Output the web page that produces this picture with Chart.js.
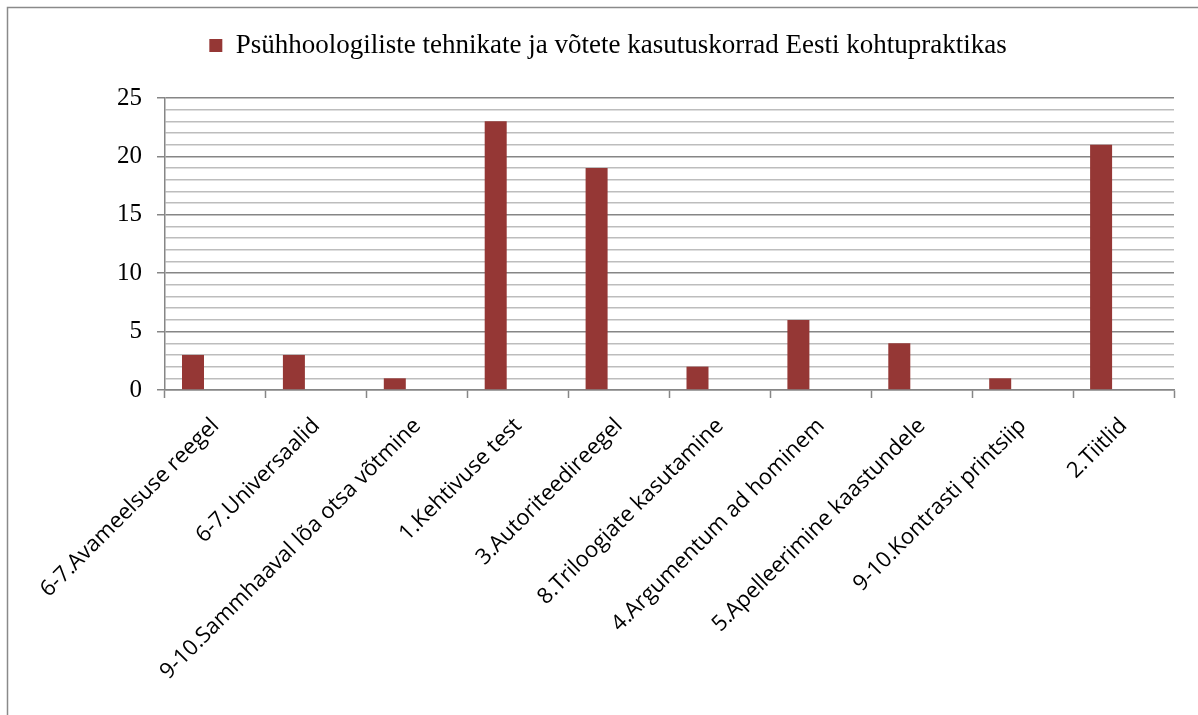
<!DOCTYPE html>
<html>
<head>
<meta charset="utf-8">
<script src="https://cdn.jsdelivr.net/npm/chart.js@4/dist/chart.umd.min.js"></script>
<style>
  html, body { margin: 0; padding: 0; background: #fff; }
  #wrap { width: 1198px; height: 715px; position: relative; }
</style>
</head>
<body>
<div id="wrap"><canvas id="myChart" width="1198" height="715"></canvas></div>
<script>
const categories = [
    '6-7.Avameelsuse reegel',
    '6-7.Universaalid',
    '9-10.Sammhaaval lõa otsa võtmine',
    '1.Kehtivuse test',
    '3.Autoriteedireegel',
    '8.Triloogiate kasutamine',
    '4.Argumentum ad hominem',
    '5.Apelleerimine kaastundele',
    '9-10.Kontrasti printsiip',
    '2.Tiitlid'
];
const seriesName = 'Psühhoologiliste tehnikate ja võtete kasutuskorrad Eesti kohtupraktikas';
const counts = [3, 3, 1, 23, 19, 2, 6, 4, 1, 21];
// empty second slot, Excel leaves room for it so bars sit left of centre
const emptySlot = [null, null, null, null, null, null, null, null, null, null];
const yTickLabels = [0, 5, 10, 15, 20, 25];

const frame = {
    id: 'frame',
    beforeLayout(chart) {
        // extra gap between legend and plot area
        const lg = chart.legend;
        if (lg && !lg._stretched) {
            const fit = lg.fit.bind(lg);
            lg.fit = function () { fit(); this.height += 29; };
            lg._stretched = true;
        }
    },
    beforeDraw(chart) {
        const ctx = chart.ctx;
        ctx.save();
        ctx.strokeStyle = '#8a8a8a';
        ctx.lineWidth = 1.5;
        ctx.strokeRect(7.5, 7.5, 1220, 740);
        ctx.restore();
    }
};

const data = {
    labels: categories,
    datasets: [{
        label: seriesName,
        data: counts,
        backgroundColor: '#953735',
        borderWidth: 0,
        barPercentage: 0.49,
        categoryPercentage: 0.89
    }, {
        label: '',
        data: emptySlot,
        backgroundColor: 'transparent',
        barPercentage: 0.49,
        categoryPercentage: 0.89
    }]
};

const config = {
    type: 'bar',
    data,
    plugins: [frame],
    options: {
        responsive: false,
        animation: false,
        layout: { padding: { left: 42, right: 24, top: 0, bottom: 10 } },
        plugins: {
            tooltip: { enabled: false },
            legend: {
                display: true,
                position: 'top',
                labels: {
                    filter: item => item.text !== '',
                    color: '#000',
                    boxWidth: 13,
                    boxHeight: 13,
                    padding: 32,
                    font: { family: '"Liberation Serif", "Times New Roman", serif', size: 27 }
                }
            }
        },
        scales: {
            x: {
                grid: {
                    offset: true,
                    drawOnChartArea: false,
                    drawTicks: true,
                    tickLength: 8,
                    tickColor: '#868686',
                    tickWidth: 1.5
                },
                border: { color: '#868686', width: 1.5 },
                ticks: {
                    minRotation: 45,
                    maxRotation: 45,
                    autoSkip: false,
                    color: '#000',
                    padding: 15,
                    font: { family: '"Open Sans", sans-serif', size: 22 }
                },
                afterFit(scale) { scale.height = 315; }
            },
            y: {
                min: 0,
                max: 25,
                grid: {
                    color: c => (c.tick && c.tick.value % 5 === 0) ? '#868686' : '#bdbdbd',
                    lineWidth: 1.5,
                    tickLength: 8,
                    tickColor: c => (c.tick && c.tick.value % 5 === 0) ? '#868686' : 'transparent'
                },
                border: { color: '#868686', width: 1.5 },
                ticks: {
                    stepSize: 1,
                    autoSkip: false,
                    color: '#000',
                    padding: 15,
                    font: { family: '"Liberation Serif", "Times New Roman", serif', size: 25 },
                    callback: v => yTickLabels.includes(v) ? String(v) : ''
                },
                afterFit(scale) { scale.width = 123; }
            }
        }
    }
};

const myChart = new Chart(document.getElementById('myChart'), config);
</script>
</body>
</html>
